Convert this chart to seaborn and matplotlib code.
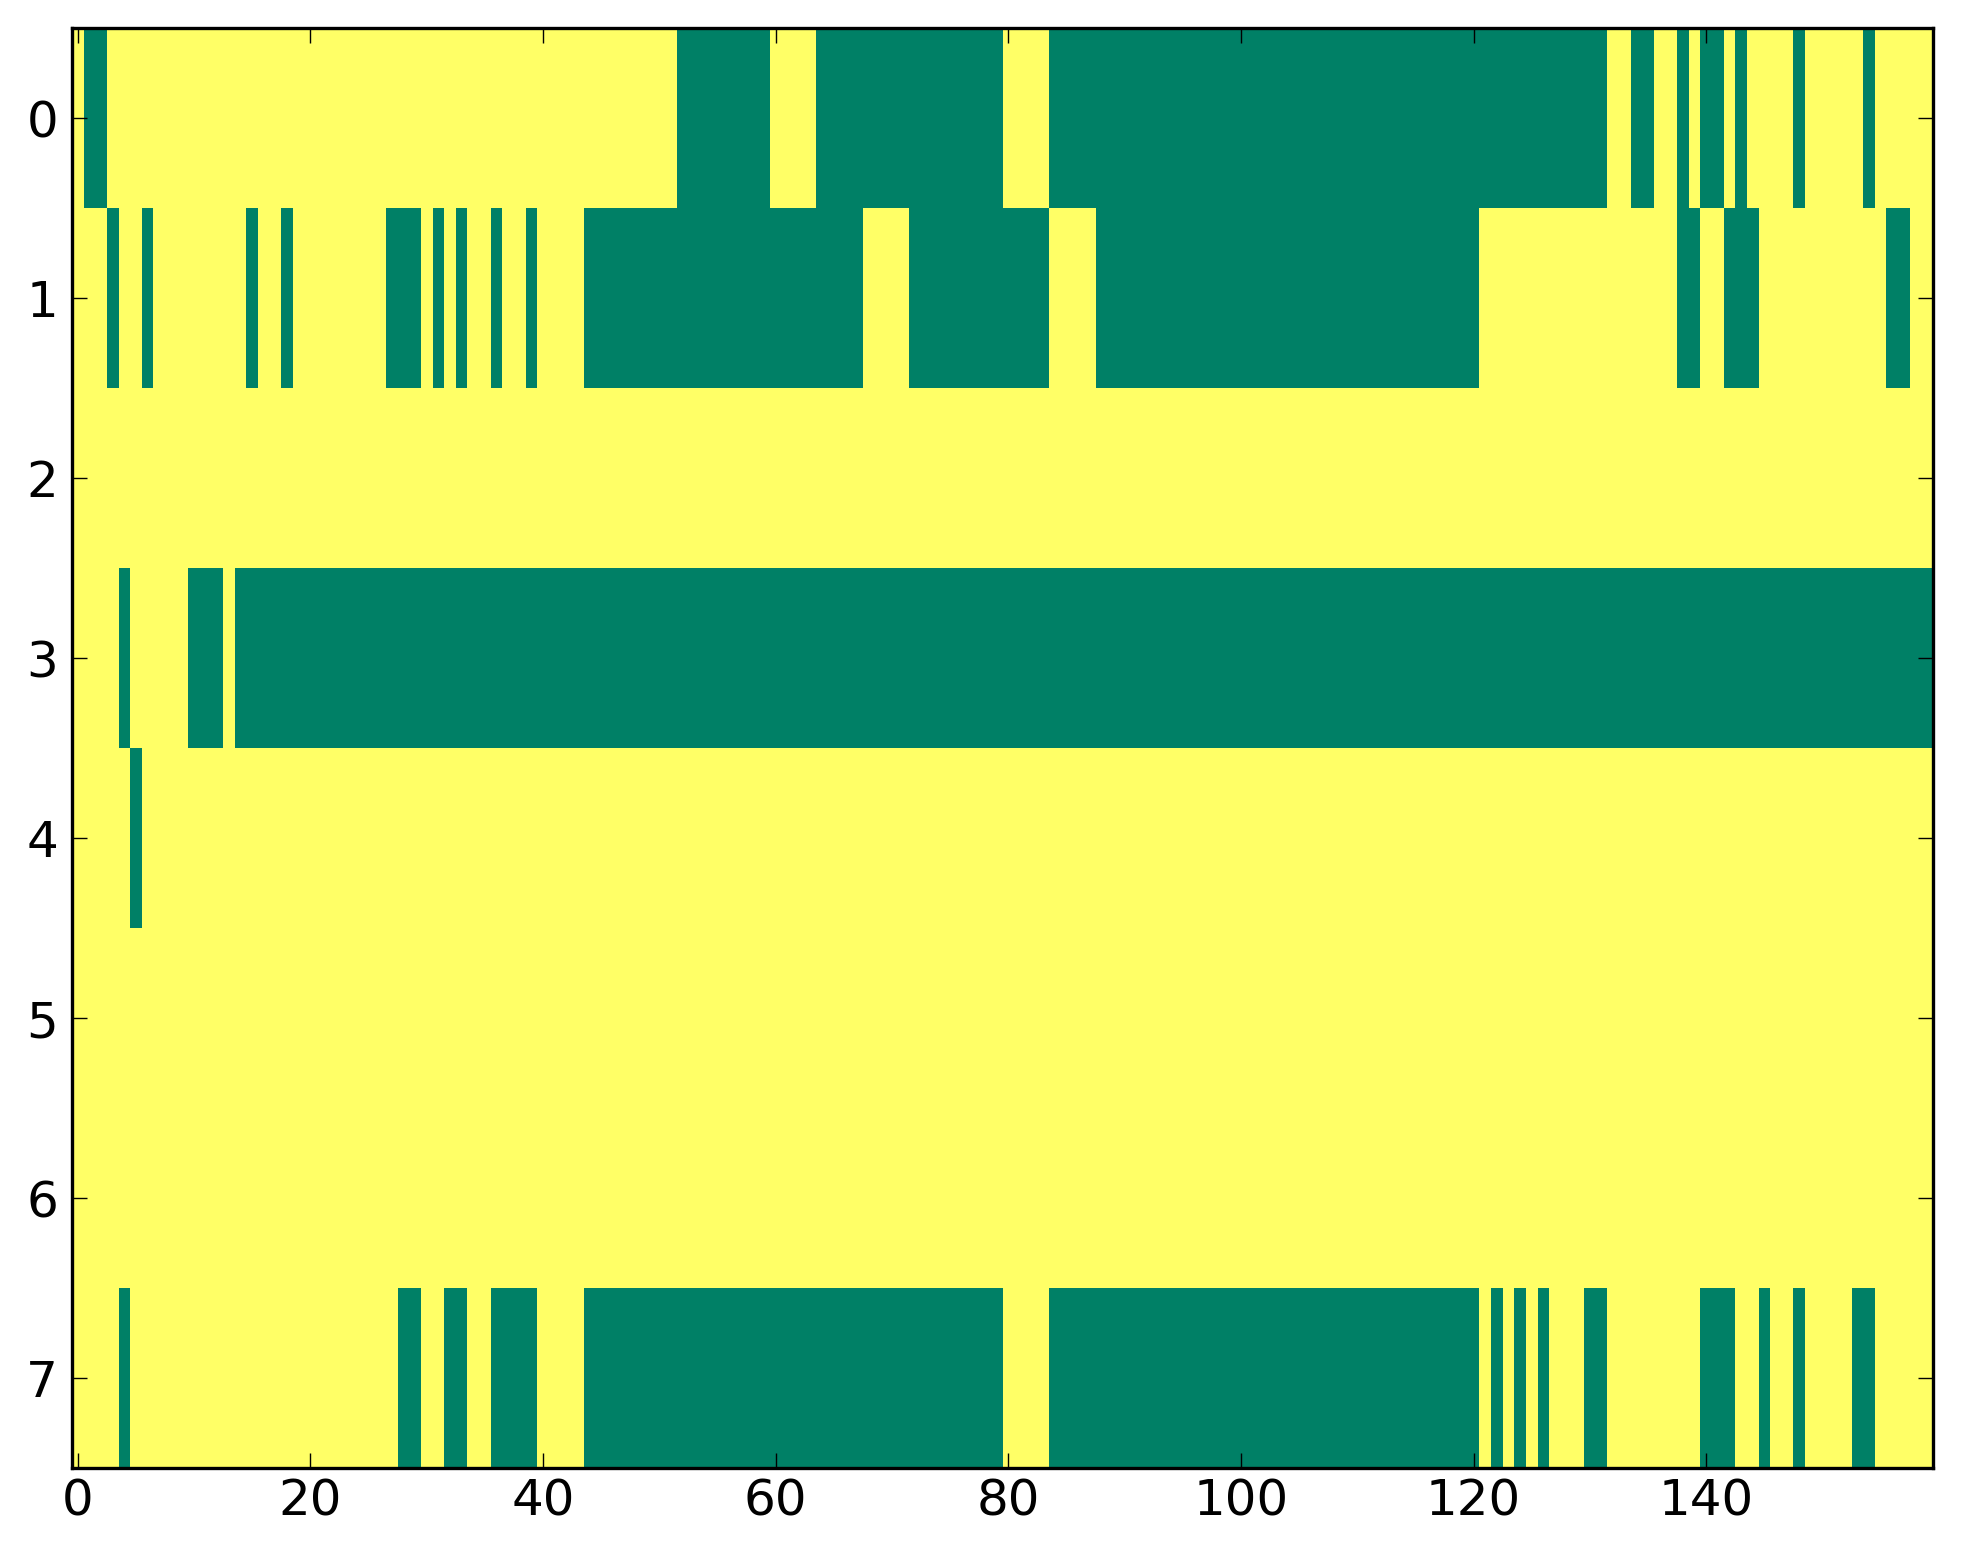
import numpy as np
import pandas as pd
import matplotlib
matplotlib.use("Agg")
import matplotlib.pyplot as plt
import seaborn as sns

# ---------------- data ----------------
n_cols = 160
row_labels = [0, 1, 2, 3, 4, 5, 6, 7]
x_tick_values = [0, 20, 40, 60, 80, 100, 120, 140]

# Cells with value 0 (green) given as inclusive column runs [start, end]; all others are 1 (yellow)
row0_zero_runs = [(1, 2), (52, 59), (64, 79), (84, 131), (134, 135), (138, 138),
                  (140, 141), (143, 143), (148, 148), (154, 154)]
row1_zero_runs = [(3, 3), (6, 6), (15, 15), (18, 18), (27, 29), (31, 31), (33, 33),
                  (36, 36), (39, 39), (44, 67), (72, 83), (88, 120), (138, 139),
                  (142, 144), (156, 157)]
row2_zero_runs = []
row3_zero_runs = [(4, 4), (10, 12), (14, 159)]
row4_zero_runs = [(5, 5)]
row5_zero_runs = []
row6_zero_runs = []
row7_zero_runs = [(4, 4), (28, 29), (32, 33), (36, 39), (44, 79), (84, 120), (122, 122),
                  (124, 124), (126, 126), (130, 131), (140, 142), (145, 145), (148, 148),
                  (153, 154)]

all_runs = [row0_zero_runs, row1_zero_runs, row2_zero_runs, row3_zero_runs,
            row4_zero_runs, row5_zero_runs, row6_zero_runs, row7_zero_runs]

values = np.ones((len(row_labels), n_cols))
for r, runs in enumerate(all_runs):
    for a, b in runs:
        values[r, a:b + 1] = 0.0
df = pd.DataFrame(values, index=row_labels, columns=list(range(n_cols)))

# ---------------- figure ----------------
W, H, DPI = 1963, 1564, 100
fig = plt.figure(figsize=(W / DPI, H / DPI), dpi=DPI)
left, right, top, bottom = 72, 1933, 28, 1468
ax = fig.add_axes([left / W, 1 - bottom / H, (right - left) / W, (bottom - top) / H])

sns.heatmap(df, cmap="summer", vmin=0, vmax=1, cbar=False, ax=ax,
            xticklabels=False, yticklabels=False)

ax.set_xticks([v + 0.5 for v in x_tick_values])
ax.set_xticklabels([str(v) for v in x_tick_values])
ax.set_yticks([v + 0.5 for v in row_labels])
ax.set_yticklabels([str(v) for v in row_labels], rotation=0)
ax.set_xlabel("")
ax.set_ylabel("")

for s in ax.spines.values():
    s.set_visible(True)
    s.set_linewidth(2.4)
    s.set_color("black")

ax.tick_params(axis="both", which="major", direction="in", top=True, right=True,
               bottom=True, left=True, length=10.5, width=1.0, color="black",
               labelsize=36, labelcolor="black")
ax.tick_params(axis="x", pad=7)
ax.tick_params(axis="y", pad=10)
for lab in ax.get_xticklabels() + ax.get_yticklabels():
    lab.set_family("DejaVu Sans")

fig.savefig("out.png", dpi=DPI, facecolor="white")
